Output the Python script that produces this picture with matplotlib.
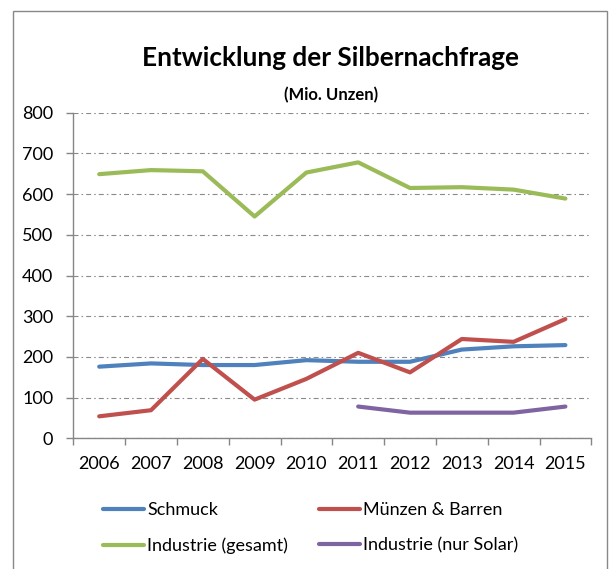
import numpy as np
import matplotlib
matplotlib.use("Agg")
import matplotlib.pyplot as plt
from matplotlib.patches import Rectangle

# ---- data ----
years = ['2006', '2007', '2008', '2009', '2010', '2011', '2012', '2013', '2014', '2015']
schmuck = [176, 184, 180, 180, 192, 188, 188, 218, 226, 229]
muenzen = [54, 69, 195, 95, 146, 210, 162, 244, 237, 293]
industrie = [649, 659, 656, 545, 653, 678, 615, 617, 611, 589]
solar = [np.nan, np.nan, np.nan, np.nan, np.nan, 78, 63, 63, 63, 78]
series_names = ['Schmuck', 'Münzen & Barren', 'Industrie (gesamt)', 'Industrie (nur Solar)']
yticks = [0, 100, 200, 300, 400, 500, 600, 700, 800]

title = 'Entwicklung der Silbernachfrage'
subtitle = '(Mio. Unzen)'

colors = ['#4F81BD', '#C0504D', '#9BBB59', '#8064A2']
FONT = ['Lato', 'DejaVu Sans']
plt.rcParams['font.family'] = FONT
plt.rcParams['lines.scale_dashes'] = False

W, H = 614, 569
fig = plt.figure(figsize=(W / 100, H / 100), dpi=100)

# outer chart border
fig.patches.append(Rectangle((12.7 / W, -0.02), (606.7 - 12.7) / W, 1 - 10.7 / H + 0.02,
                             transform=fig.transFigure, fill=False,
                             edgecolor='#888888', linewidth=1.0))

left, right = 73.3 / W, 591.3 / W
bottom, top = 1 - 438.3 / H, 1 - 112.7 / H
ax = fig.add_axes([left, bottom, right - left, top - bottom])

x = np.arange(len(years))
lines = []
for vals, c, name in zip([schmuck, muenzen, industrie, solar], colors, series_names):
    ln, = ax.plot(x, vals, color=c, lw=3.0, solid_capstyle='round',
                  solid_joinstyle='round', label=name)
    lines.append(ln)

ax.set_xlim(-0.5, len(years) - 0.5)
ax.set_ylim(0, 800)
ax.set_yticks(yticks)
ax.set_yticklabels([str(v) for v in yticks])

# category ticks at boundaries, labels at centres
ax.set_xticks(np.arange(-0.5, len(years), 1.0))
ax.set_xticklabels([])
ax.set_xticks(x, minor=True)
ax.set_xticklabels(years, minor=True)
ax.tick_params(axis='x', which='major', length=5, width=1, color='#868686', direction='out')
ax.tick_params(axis='x', which='minor', length=0, pad=12.5, labelsize=13, labelcolor='#000000')
ax.tick_params(axis='y', length=5, width=1, color='#868686', direction='out', pad=9.5,
               labelsize=13, labelcolor='#000000')

for s in ['top', 'right']:
    ax.spines[s].set_visible(False)
for s in ['left', 'bottom']:
    ax.spines[s].set_color('#868686')
    ax.spines[s].set_linewidth(1.0)

ax.yaxis.grid(True, color='#8a8a8a', linewidth=0.8,
              linestyle=(0, (3.6, 2.2, 1.1, 2.2)))
ax.set_axisbelow(True)
ax.set_facecolor('none')

fig.text(330 / W, 1 - 65.7 / H, title, ha='center', va='baseline',
         fontsize=18.8, fontweight='bold', color='#000000')
fig.text(331.5 / W, 1 - 100.5 / H, subtitle, ha='center', va='baseline',
         fontsize=12, fontweight='bold', color='#000000')

# legend: row-wise order (Schmuck, Münzen / Industrie gesamt, Solar)
order = [0, 2, 1, 3]
fs_leg = 13
leg = fig.legend(handles=[lines[i] for i in order], labels=[series_names[i] for i in order],
                 ncol=2, loc='upper left', bbox_to_anchor=(102.7 / W, 1 - 502.0 / H),
                 bbox_transform=fig.transFigure, frameon=False,
                 fontsize=fs_leg, handlelength=2.3, handletextpad=0.17,
                 columnspacing=1.7, labelspacing=1.08, borderpad=0, borderaxespad=0)

fig.savefig('out.png', dpi=100)
